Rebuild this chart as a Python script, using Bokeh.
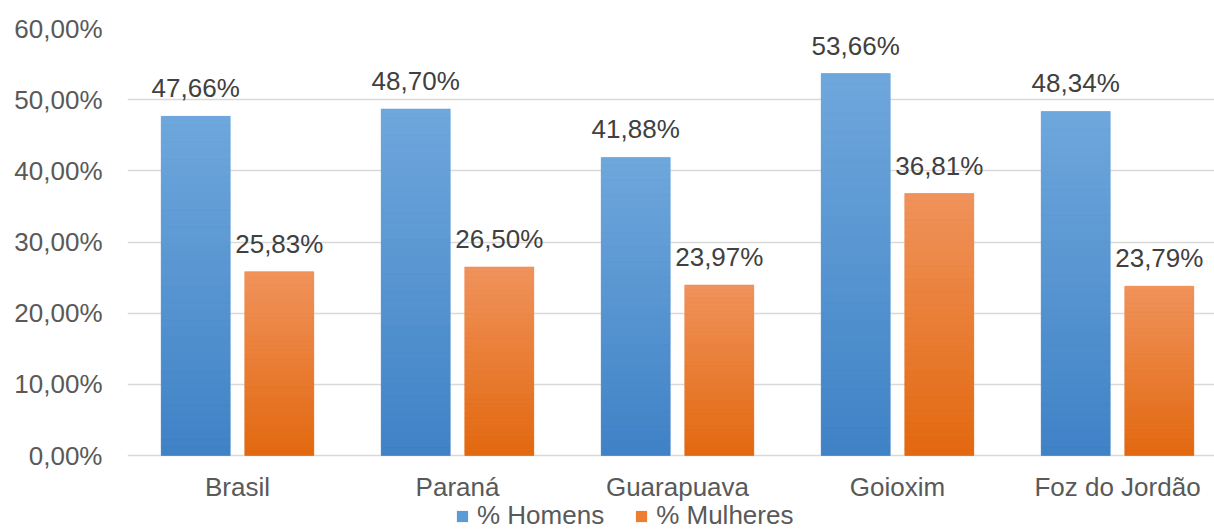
from bokeh.plotting import figure
from bokeh.models import FixedTicker, Legend, LegendItem
from bokeh.embed import file_html
from bokeh.resources import INLINE
from bokeh.core.properties import value

categories = ["Brasil", "Paraná", "Guarapuava", "Goioxim", "Foz do Jordão"]
homens = [47.66, 48.70, 41.88, 53.66, 48.34]
mulheres = [25.83, 26.50, 23.97, 36.81, 23.79]
homens_labels = ["47,66%", "48,70%", "41,88%", "53,66%", "48,34%"]
mulheres_labels = ["25,83%", "26,50%", "23,97%", "36,81%", "23,79%"]
y_ticks = [0, 10, 20, 30, 40, 50, 60]
y_tick_labels = ["0,00%", "10,00%", "20,00%", "30,00%", "40,00%", "50,00%", "60,00%"]

FONT = "Liberation Sans"
W, H = 1214, 531
LEFT, TOP = 127, 28
PLOT_H = 427  # pixels from 0% to 60%
frame_w = W - LEFT
ppu = PLOT_H / 60.0
y_start = -(H - TOP - PLOT_H) / ppu

p = figure(width=W, height=H, output_backend="svg", toolbar_location=None,
           x_range=(0, frame_w / 220.0), y_range=(y_start, 60),
           min_border_left=LEFT, min_border_right=0, min_border_top=TOP,
           min_border_bottom=0)
p.outline_line_color = None
p.background_fill_color = "white"
p.border_fill_color = "white"

xs = [i + 0.5 for i in range(len(categories))]
off = 0.19
bw = 69 / 220.0

def grad(c1, c2, t):
    a = [int(c1[i:i + 2], 16) for i in (1, 3, 5)]
    b = [int(c2[i:i + 2], 16) for i in (1, 3, 5)]
    return "#%02x%02x%02x" % tuple(round(a[k] + (b[k] - a[k]) * t) for k in range(3))

series = [
    (homens, homens_labels, -off, "#5b9bd5", "#6fa7dc", "#3f82c6", "% Homens"),
    (mulheres, mulheres_labels, off, "#ed7d31", "#f0935c", "#e2680f", "% Mulheres"),
]
items = []
K = 40
for vals, labs, dx, base, top_c, bot_c, name in series:
    bx = [x + dx for x in xs]
    r = p.vbar(x=bx, top=vals, bottom=0, width=bw, fill_color=base, line_color=None)
    items.append(LegendItem(label=name, renderers=[r]))
    # gradient bands derived from each value
    gx, gb, gt, gc = [], [], [], []
    for x, v in zip(bx, vals):
        for k in range(K):
            gx.append(x)
            gb.append(v * k / K)
            gt.append(v * (k + 1) / K)
            gc.append(grad(bot_c, top_c, (k + 0.5) / K))
    p.vbar(x=gx, bottom=gb, top=gt, width=bw, fill_color=gc, line_color=gc, line_width=0.5)
    p.text(x=bx, y=vals, text=labs, text_align="center", text_baseline="bottom",
           y_offset=-13, text_font=value(FONT), text_font_size="26px", text_color="#404040")

# axes
p.xaxis.fixed_location = 0
p.xaxis.ticker = FixedTicker(ticks=xs)
p.xaxis.major_label_overrides = {x: c for x, c in zip(xs, categories)}
p.yaxis.ticker = FixedTicker(ticks=y_ticks)
p.yaxis.major_label_overrides = {t: l for t, l in zip(y_ticks, y_tick_labels)}
for ax in (p.xaxis, p.yaxis):
    ax.axis_line_color = None
    ax.major_tick_line_color = None
    ax.minor_tick_line_color = None
    ax.major_label_text_font = FONT
    ax.major_label_text_font_size = "26px"
    ax.major_label_text_color = "#595959"
p.yaxis.major_label_standoff = 19
p.xaxis.major_label_standoff = 10
p.xgrid.grid_line_color = None
p.ygrid.ticker = FixedTicker(ticks=y_ticks)
p.ygrid.grid_line_color = "#d9d9d9"
p.ygrid.grid_line_width = 1.5

legend = Legend(items=items, orientation="horizontal", location=(328, 0),
                label_text_font=FONT, label_text_font_size="26px",
                label_text_color="#595959", glyph_width=14, glyph_height=14,
                spacing=30, padding=0, margin=0, border_line_color=None,
                background_fill_alpha=0, label_standoff=8)
p.add_layout(legend, "center")

open("out.html", "w").write(file_html(p, INLINE))
